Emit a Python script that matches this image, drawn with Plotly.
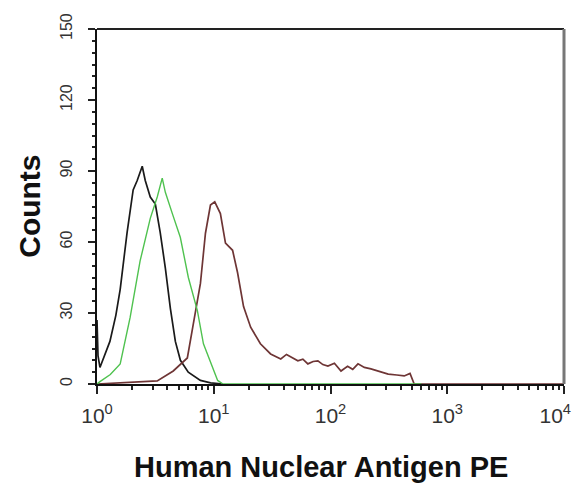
import plotly.graph_objects as go

# Flow cytometry histogram: Human Nuclear Antigen PE
black_x = [1.0, 1.02, 1.06, 1.12, 1.29, 1.45, 1.58, 1.81, 2.04, 2.21, 2.44, 2.59,
           2.86, 3.16, 3.48, 3.85, 4.25, 4.69, 5.18, 6.05, 7.69, 9.4, 12.0]
black_y = [27, 12, 7, 10, 18, 29, 40, 64, 82, 86, 92, 86,
           79, 76, 64, 49, 32, 18, 10, 5, 1.5, 0.5, 0]

green_x = [1.0, 1.06, 1.3, 1.58, 1.92, 2.34, 2.86, 3.28, 3.62, 3.85, 4.42, 5.17,
           6.06, 7.24, 8.16, 9.75, 10.8, 12.0, 600.0]
green_y = [0, 1, 4, 8.5, 28, 52, 70, 79, 87, 81, 72, 62,
           45, 31, 17, 7, 1.5, 0, 0]

red_x = [1.0, 3.28, 4.5, 5.94, 6.69, 7.69, 8.49, 9.37, 10.2, 11.4, 12.6, 14.5,
         16.0, 18.0, 20.7, 25.1, 30.7, 37.5, 42, 45.7, 52.5, 58, 64, 71, 78, 86,
         95, 108, 123, 140, 155, 172, 195, 222, 260, 312, 370, 428, 480, 521, 10000]
red_y = [0, 1.3, 5.5, 11, 25.5, 42.5, 63.7, 75.6, 77, 72, 59.5, 56.5,
         47, 32.7, 24, 17, 12.7, 10.6, 12.5, 11.5, 9.8, 10.5, 8.5, 9.5, 9.8, 8.2,
         7.6, 8.8, 5.5, 7.5, 6.2, 8.5, 7.0, 6.4, 5.5, 4.2, 3.8, 3.4, 4.5, 0, 0]

x_tickvals = [1, 10, 100, 1000, 10000]
x_ticktext = ["10<sup>0</sup>", "10<sup>1</sup>", "10<sup>2</sup>",
              "10<sup>3</sup>", "10<sup>4</sup>&nbsp;&nbsp;&nbsp;"]
y_tickvals = [0, 30, 60, 90, 120, 150]
x_title = "Human Nuclear Antigen PE"
y_title = "Counts"

x_minor = [m * d for d in (1, 10, 100, 1000) for m in range(2, 10)]
y_minor = [v for v in range(0, 151, 5) if v % 30 != 0]

fig = go.Figure()
fig.add_trace(go.Scatter(x=black_x, y=black_y, mode="lines",
                         line=dict(color="#1a1a1a", width=1.7), showlegend=False))
fig.add_trace(go.Scatter(x=red_x, y=red_y, mode="lines",
                         line=dict(color="#6e3535", width=1.7), showlegend=False))
fig.add_trace(go.Scatter(x=green_x, y=green_y, mode="lines",
                         line=dict(color="#4fc24f", width=1.4), showlegend=False))

font_family = "Liberation Sans, Arial, sans-serif"

fig.update_layout(
    width=576, height=487,
    margin=dict(l=97, r=12, t=29, b=103, autoexpand=False),
    paper_bgcolor="white", plot_bgcolor="white",
    font=dict(family=font_family, color="#222222"),
    xaxis=dict(type="log", range=[0, 4], tickvals=x_tickvals, ticktext=x_ticktext,
               ticks="outside", ticklen=8, tickwidth=1.5, tickcolor="#222222",
               showline=True, linecolor="#111111", linewidth=2, automargin=False,
               showgrid=False, zeroline=False, ticklabeloverflow="allow",
               ticklabelstandoff=4,
               tickfont=dict(size=21, color="#333333"),
               minor=dict(tickvals=x_minor, ticks="outside", ticklen=4,
                          tickwidth=1.5, tickcolor="#222222", showgrid=False)),
    yaxis=dict(range=[0, 150], tickvals=y_tickvals,
               ticks="outside", ticklen=7, tickwidth=1.5, tickcolor="#222222",
               showline=True, linecolor="#111111", linewidth=2, automargin=False,
               showgrid=False, zeroline=False, tickangle=-90,
               ticklabelstandoff=10,
               tickfont=dict(size=16, color="#333333"),
               minor=dict(tickvals=y_minor, ticks="outside", ticklen=3,
                          tickwidth=1.5, tickcolor="#222222", showgrid=False)),
    shapes=[
        dict(type="line", xref="paper", yref="paper", x0=0, x1=1, y0=1, y1=1,
             line=dict(color="#222222", width=2)),
        dict(type="line", xref="paper", yref="paper", x0=1, x1=1, y0=0, y1=1,
             line=dict(color="#777777", width=3)),
    ],
    annotations=[
        dict(text="<b>" + x_title + "</b>", xref="paper", yref="paper",
             x=0.48, y=-0.235, xanchor="center", yanchor="middle", showarrow=False,
             font=dict(size=29, color="#111111", family=font_family)),
        dict(text="<b>" + y_title + "</b>", xref="paper", yref="paper",
             x=-0.145, y=0.50, xanchor="center", yanchor="middle", showarrow=False,
             textangle=-90, font=dict(size=30, color="#111111", family=font_family)),
    ],
)

fig.write_html("out.html", config={"displayModeBar": False},
               post_script="document.body.style.margin='0';")
